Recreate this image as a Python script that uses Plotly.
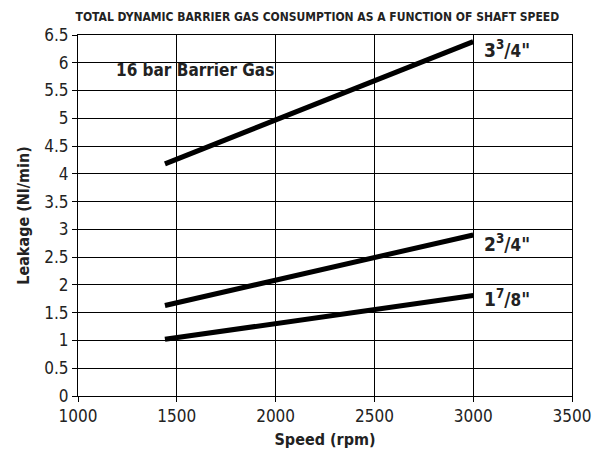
import plotly.graph_objects as go

speed = [1440, 3000]
size_3_75 = [4.18, 6.38]
size_2_75 = [1.63, 2.90]
size_1_875 = [1.02, 1.81]

labels = ['3<sup>3</sup>/<span style="font-size:17px">4</span>"',
          '2<sup>3</sup>/<span style="font-size:17px">4</span>"',
          '1<sup>7</sup>/<span style="font-size:17px">8</span>"']
label_y = [6.25, 2.76, 1.77]
label_x = 3045

FONT = "DejaVu Sans Condensed, Liberation Sans Narrow, Roboto, sans-serif"

fig = go.Figure()
for ys in (size_3_75, size_2_75, size_1_875):
    fig.add_trace(go.Scatter(x=speed, y=ys, mode="lines",
                             line=dict(color="black", width=5), showlegend=False))

for t, y in zip(labels, label_y):
    fig.add_annotation(x=label_x, y=y, text="<b>" + t + "</b>", showarrow=False,
                       xanchor="left", yanchor="middle",
                       font=dict(family=FONT, size=19, color="#222"))

fig.add_annotation(x=1184, y=5.87, text="<b>16 bar Barrier Gas</b>", showarrow=False,
                   xanchor="left", yanchor="middle",
                   font=dict(family=FONT, size=17, color="#222"))

fig.update_layout(
    width=595, height=450,
    margin=dict(l=70, r=28, t=27, b=53),
    paper_bgcolor="white", plot_bgcolor="white",
    title=dict(text="<b>TOTAL DYNAMIC BARRIER GAS CONSUMPTION AS A FUNCTION OF SHAFT SPEED</b>",
               x=0.52, xanchor="center", y=0.98, yanchor="middle",
               font=dict(family=FONT, size=12, color="#222")),
    font=dict(family=FONT, color="#222"),
)
fig.update_xaxes(range=[1000, 3500], dtick=500, tick0=1000,
                 showgrid=True, gridcolor="black", gridwidth=1,
                 showline=True, linecolor="black", linewidth=1, mirror=True,
                 ticks="outside", ticklen=5, tickcolor="black",
                 tickfont=dict(family=FONT, size=17, color="#222"),
                 title=dict(text="<b>Speed (rpm)</b>", standoff=8,
                            font=dict(family=FONT, size=16, color="#222")),
                 zeroline=False)
fig.update_yaxes(range=[0, 6.5], dtick=0.5, tick0=0,
                 showgrid=True, gridcolor="black", gridwidth=1,
                 showline=True, linecolor="black", linewidth=1, mirror=True,
                 ticks="outside", ticklen=5, tickcolor="black",
                 tickfont=dict(family=FONT, size=17, color="#222"),
                 title=dict(text="<b>Leakage (Nl/min)</b>", standoff=10,
                            font=dict(family=FONT, size=16, color="#222")),
                 zeroline=False)

fig.write_html("out.html")
